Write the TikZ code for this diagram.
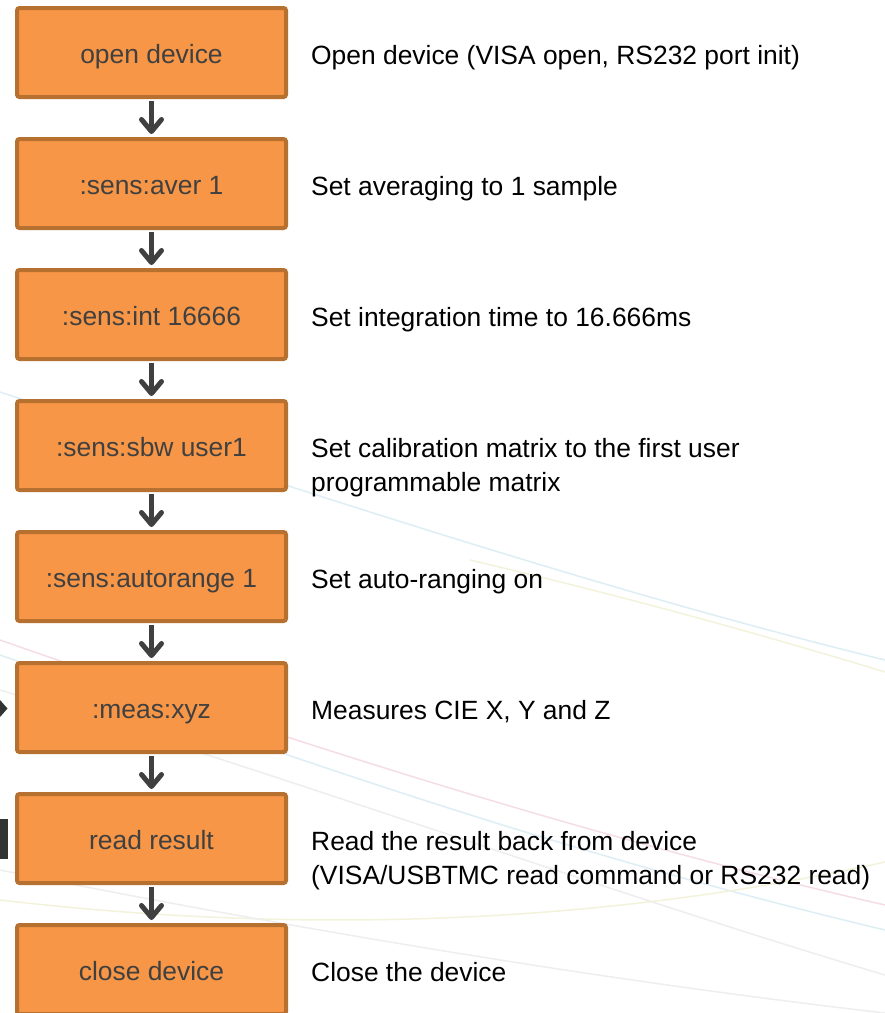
\documentclass[tikz,border=0pt]{standalone}
\usepackage{fontspec}
\setmainfont{Liberation Sans}
\usetikzlibrary{arrows.meta}
\definecolor{boxfill}{HTML}{F79646}
\definecolor{boxline}{HTML}{B6702F}
\definecolor{boxtext}{HTML}{404040}
\definecolor{arrowgray}{HTML}{404040}
\definecolor{fragdark}{HTML}{333333}
\definecolor{bgblue}{HTML}{DDEEF5}
\definecolor{bgpink}{HTML}{F5DDE8}
\definecolor{bgyellow}{HTML}{F3F3DC}
\definecolor{bggray}{HTML}{EEEEEE}
\begin{document}
\begin{tikzpicture}[x=1pt,y=-1pt,
  stepbox/.style={draw=boxline, fill=boxfill, line width=4pt, rounded corners=2.5pt,
    minimum width=269pt, minimum height=89pt, inner sep=0pt,
    text height=24pt, text depth=3pt,
    font=\fontsize{26.4}{34}\selectfont, text=boxtext},
  desc/.style={anchor=base west, inner sep=0pt, font=\fontsize{26.4}{34}\selectfont, text=black},
  flow/.style={draw=arrowgray, line width=5pt,
    -{Straight Barb[length=12pt,width=20pt,round]}, shorten >=3pt, shorten <=2pt},
  bgline/.style={line width=1.5pt}]
\useasboundingbox (0,0) rectangle (885,1013);
\fill[white] (0,0) rectangle (885,1013);
% faint background sweeps
\draw[bgline, bgblue] (0,392) .. controls (300,490) and (600,590) .. (885,660);
\draw[bgline, bgyellow] (470,560) .. controls (640,600) and (780,640) .. (885,672);
\draw[bgline, bgpink] (0,640) .. controls (300,745) and (600,840) .. (885,905);
\draw[bgline, bgblue] (0,655) .. controls (300,760) and (550,850) .. (885,930);
\draw[bgline, bggray] (0,690) .. controls (300,780) and (600,890) .. (885,975);
\draw[bgline, bgyellow] (0,900) .. controls (300,935) and (600,925) .. (885,862);
\draw[bgline, bggray] (0,870) .. controls (300,930) and (600,980) .. (885,1013);
% fragments at the left edge
\fill[fragdark] (0,700) -- (7.5,708.5) -- (0,717) -- cycle;
\fill[fragdark] (0,819) rectangle (8,859);
% boxes
\node[stepbox] (b1) at (151.5,52.5) {open device};
\node[stepbox] (b2) at (151.5,183.5) {:sens:aver 1};
\node[stepbox] (b3) at (151.5,314.5) {:sens:int 16666};
\node[stepbox] (b4) at (151.5,445.5) {:sens:sbw user1};
\node[stepbox] (b5) at (151.5,576.5) {:sens:autorange 1};
\node[stepbox] (b6) at (151.5,707.5) {:meas:xyz};
\node[stepbox] (b7) at (151.5,838.5) {read result};
\node[stepbox] (b8) at (151.5,969.5) {close device};
% descriptions
\node[desc] (d1) at (311,64) {Open device (VISA open, RS232 port init)};
\node[desc] (d2) at (311,195) {Set averaging to 1 sample};
\node[desc] (d3) at (311,326) {Set integration time to 16.666ms};
\node[desc] (d4) at (311,457) {\vtop{\hbox{Set calibration matrix to the first user}\hbox{programmable matrix}}};
\node[desc] (d5) at (311,588) {Set auto-ranging on};
\node[desc] (d6) at (311,719) {Measures CIE X, Y and Z};
\node[desc] (d7) at (311,850) {\vtop{\hbox{Read the result back from device}\hbox{(VISA/USBTMC read command or RS232 read)}}};
\node[desc] (d8) at (311,981) {Close the device};
% connectors
\draw[flow] (b1.south) -- (b2.north);
\draw[flow] (b2.south) -- (b3.north);
\draw[flow] (b3.south) -- (b4.north);
\draw[flow] (b4.south) -- (b5.north);
\draw[flow] (b5.south) -- (b6.north);
\draw[flow] (b6.south) -- (b7.north);
\draw[flow] (b7.south) -- (b8.north);
\end{tikzpicture}
\end{document}
